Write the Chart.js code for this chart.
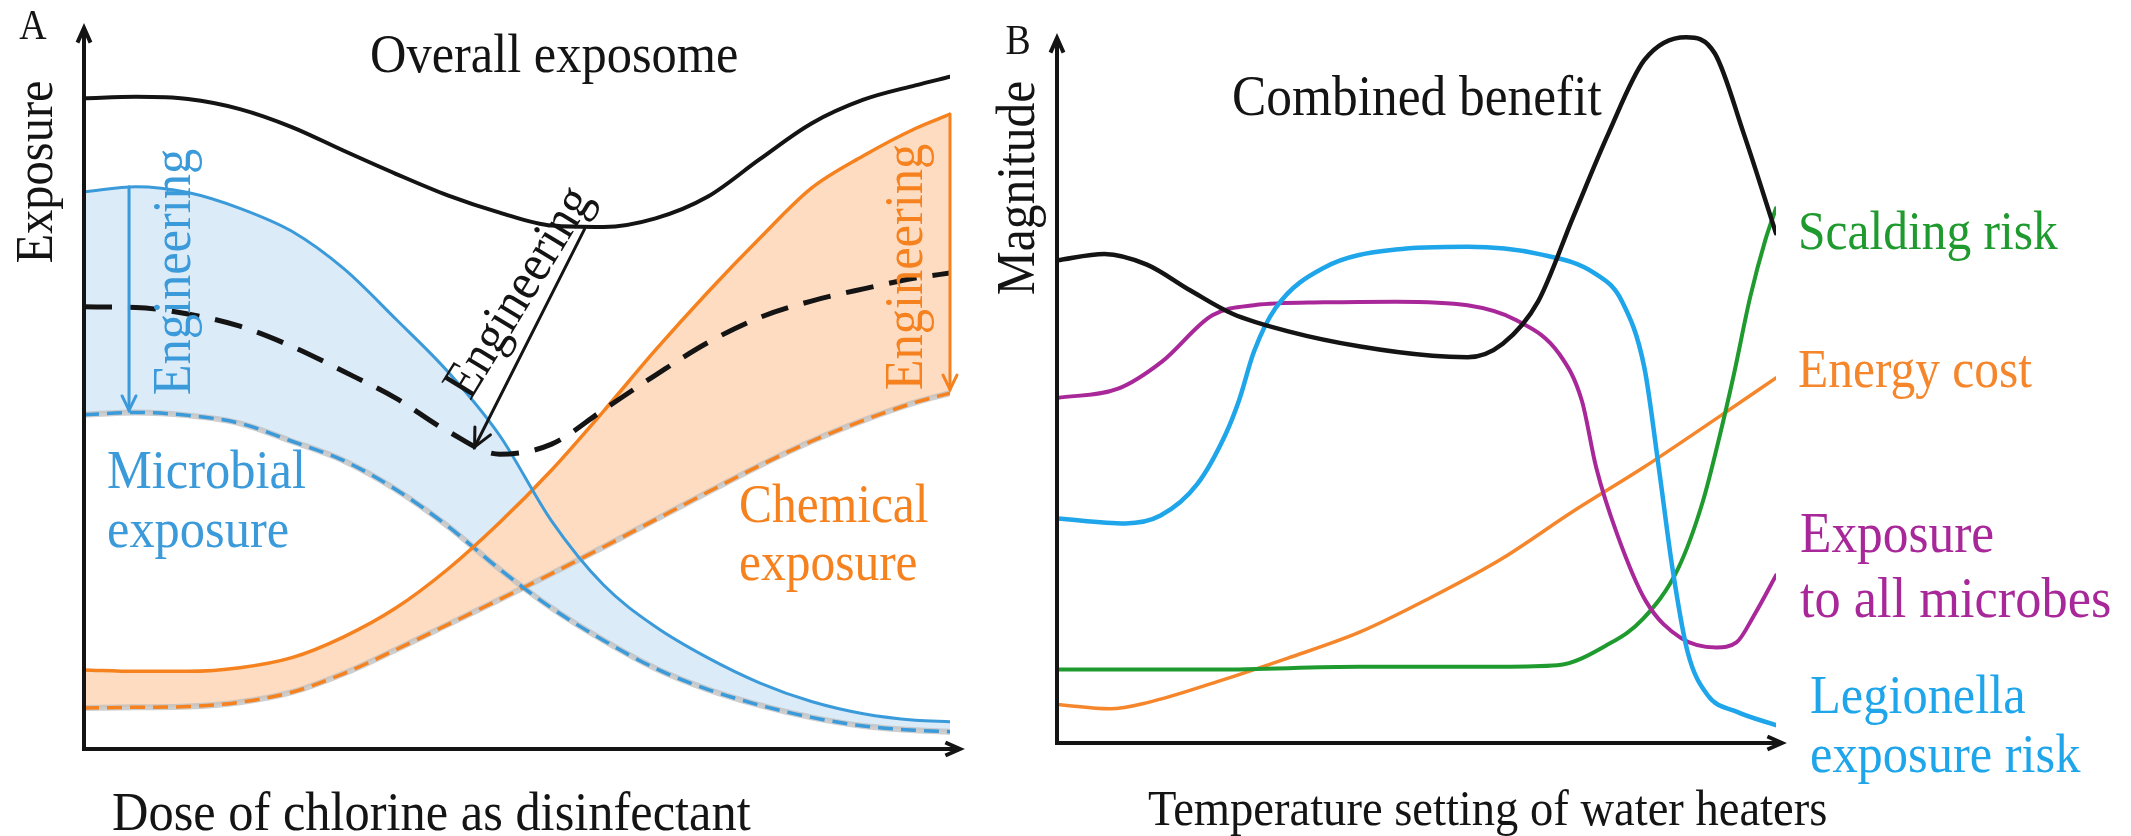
<!DOCTYPE html>
<html><head><meta charset="utf-8">
<script src="https://cdn.jsdelivr.net/npm/chart.js@4/dist/chart.umd.min.js"></script>
<style>
html,body{margin:0;padding:0;background:#fff;}
#wrap{position:relative;width:2131px;height:836px;overflow:hidden;background:#fff}
canvas{position:absolute;top:0}
</style>
</head><body>
<div id="wrap">
<canvas id="cA" width="1000" height="836" style="left:0px"></canvas>
<canvas id="cB" width="1151" height="836" style="left:980px"></canvas>
</div>
<script>
// ---------- Panel A: dose of chlorine (0-100, arbitrary units) ----------
const doseX = [0, 6, 12, 18, 24, 30, 36, 42, 48, 54, 60, 66, 72, 78, 84, 90, 96, 100];
const overallExposome   = [90.5, 90.7, 90.4, 89.0, 86.5, 83.2, 80.0, 77.0, 74.6, 72.8, 72.6, 73.8, 76.8, 82.0, 87.0, 90.3, 92.3, 93.5];
const overallEngineered = [61.5, 61.4, 60.5, 58.8, 56.0, 52.5, 48.8, 44.2, 41.0, 42.4, 47.2, 52.0, 56.5, 60.0, 62.3, 64.0, 65.5, 66.2];
const microbialExposure   = [77.5, 78.2, 77.4, 75.2, 72.0, 66.8, 59.8, 52.5, 43.6, 31.7, 22.8, 17.0, 12.7, 9.2, 6.6, 4.9, 4.0, 3.8];
const microbialEngineered = [46.5, 46.8, 46.4, 45.3, 42.8, 40.1, 36.1, 31.0, 25.0, 19.6, 15.1, 11.2, 8.3, 6.1, 4.4, 3.2, 2.6, 2.4];
const chemicalExposure   = [11.0, 10.8, 10.8, 11.3, 12.7, 15.6, 19.6, 25.0, 31.5, 38.8, 47.0, 55.5, 63.5, 71.0, 78.0, 82.5, 86.3, 88.3];
const chemicalEngineered = [5.7, 5.8, 5.9, 6.5, 7.9, 10.5, 13.8, 17.3, 20.8, 24.4, 28.1, 31.9, 35.7, 39.4, 42.8, 45.7, 48.2, 49.5];

// ---------- Panel B: temperature setting (0-100, arbitrary units) ----------
const benefitX = [0, 6.6, 12.5, 18.5, 24.4, 32.3, 42.2, 52.2, 57.1, 62.0, 66.9, 71.8, 76.7, 81.7, 87.5, 91.5, 95.5, 100];
const benefitY = [67.7, 68.6, 67.1, 63.5, 60.2, 57.7, 55.6, 54.3, 54.1, 56.0, 61.9, 73.8, 85.5, 95.8, 99.0, 96.7, 85.5, 71.5];
const legionellaX = [0, 9.5, 14.4, 19.5, 23.4, 25.3, 27.4, 30.4, 37.2, 47.1, 57.1, 66.9, 74.9, 78.6, 81.7, 83.7, 85.6, 87.7, 90.5, 94.5, 100];
const legionellaY = [31.5, 30.8, 31.9, 36.3, 43.2, 48.0, 54.9, 61.0, 66.7, 69.2, 69.6, 68.6, 65.8, 61.9, 52.6, 38.6, 24.5, 12.8, 6.7, 4.4, 2.5];
const microbesX = [0, 8.5, 14.6, 21.6, 27.4, 37.2, 47.1, 57.1, 63.9, 69.9, 73.0, 75.0, 77.9, 81.9, 86.8, 91.7, 94.5, 97.0, 100];
const microbesY = [48.4, 49.7, 53.5, 60.0, 61.4, 61.8, 61.9, 61.4, 59.3, 54.5, 48.0, 38.6, 29.3, 19.9, 14.7, 13.4, 14.1, 18.0, 23.5];
const scaldX = [0, 22.3, 42.0, 61.8, 69.6, 76.6, 81.5, 86.4, 89.8, 92.2, 94.1, 96.4, 98.5, 100];
const scaldY = [10.3, 10.3, 10.7, 10.7, 10.9, 13.8, 17.4, 24.5, 33.8, 43.2, 51.5, 62.5, 70.5, 75.0];
const energyX = [0, 7.4, 12.7, 22.3, 32.1, 42.0, 51.8, 61.8, 71.8, 81.5, 91.7, 100];
const energyY = [5.4, 4.8, 5.7, 8.6, 11.9, 15.5, 20.3, 25.8, 32.5, 38.6, 45.5, 51.2];

// ---------- colours ----------
const C = {
  black: '#141414',
  blueA: '#3b9ad9', blueAfill: '#dcebf8', orangeA: '#f5821f', orangeAfill: '#fddcc2',
  halo: 'rgba(190,190,190,0.75)',
  legion: '#1ea5ea', microbes: '#a8289a', scald: '#1f9a2e', energy: '#f5862b'
};
const FONT = '"Liberation Serif","Times New Roman",serif';
const BASE = 40;

function pts(xs, ys) { return xs.map((x, i) => ({ x: x, y: ys[i] })); }

function drawText(ctx, t, off) {
  ctx.save();
  ctx.font = BASE + 'px ' + FONT;
  ctx.fillStyle = t.color || C.black;
  ctx.textAlign = t.align || 'left';
  ctx.textBaseline = t.baseline || 'alphabetic';
  ctx.translate(t.x - off, t.y);
  if (t.rot) ctx.rotate(t.rot * Math.PI / 180);
  const s = t.size / BASE;
  ctx.scale(s * 0.97, s * 1.06);
  ctx.fillText(t.text, 0, 0);
  ctx.restore();
}
function chevron(ctx, x1, y1, x2, y2, len, ang) {
  const a = Math.atan2(y2 - y1, x2 - x1);
  ctx.beginPath();
  ctx.moveTo(x2 - len * Math.cos(a - ang), y2 - len * Math.sin(a - ang));
  ctx.lineTo(x2, y2);
  ctx.lineTo(x2 - len * Math.cos(a + ang), y2 - len * Math.sin(a + ang));
  ctx.stroke();
}
function arrowLine(ctx, x1, y1, x2, y2, color, w, head) {
  ctx.save();
  ctx.strokeStyle = color; ctx.lineWidth = w; ctx.lineCap = 'round'; ctx.lineJoin = 'miter';
  ctx.beginPath(); ctx.moveTo(x1, y1); ctx.lineTo(x2, y2); ctx.stroke();
  chevron(ctx, x1, y1, x2, y2, head, 0.45);
  ctx.restore();
}

function makeAnno(cfg) {
  return {
    id: 'anno' + cfg.name,
    afterDatasetsDraw(chart) {
      const ctx = chart.ctx, a = chart.chartArea, xs = chart.scales.x, ys = chart.scales.y;
      (cfg.arrows || []).forEach(r => {
        arrowLine(ctx, xs.getPixelForValue(r.x1), ys.getPixelForValue(r.y1),
                  xs.getPixelForValue(r.x2), ys.getPixelForValue(r.y2), r.color, r.w, r.head);
      });
      ctx.save();
      ctx.strokeStyle = C.black; ctx.lineWidth = 4; ctx.lineCap = 'butt';
      ctx.beginPath();
      ctx.moveTo(a.left, cfg.yTip); ctx.lineTo(a.left, a.bottom); ctx.lineTo(cfg.xTip - cfg.off, a.bottom);
      ctx.stroke();
      ctx.lineJoin = 'miter';
      chevron(ctx, a.left, a.bottom, a.left, cfg.yTip, 16, 0.42);
      chevron(ctx, a.left, a.bottom, cfg.xTip - cfg.off, a.bottom, 16, 0.42);
      ctx.restore();
      (cfg.texts || []).forEach(t => drawText(ctx, t, cfg.off));
    }
  };
}

const common = (pad) => ({
  responsive: false, animation: false, devicePixelRatio: 1,
  layout: { padding: pad },
  plugins: { legend: { display: false }, tooltip: { enabled: false } },
  scales: {
    x: { type: 'linear', min: 0, max: 100, display: false },
    y: { type: 'linear', min: 0, max: 100, display: false }
  },
  elements: { point: { radius: 0, hoverRadius: 0 }, line: { cubicInterpolationMode: 'monotone', borderCapStyle: 'round', borderJoinStyle: 'round' } }
});

// ---------- Chart A ----------
const annoA = makeAnno({
  name: 'A', off: 0, yTip: 28, xTip: 960,
  arrows: [
    { x1: doseX[1] - 0.8, y1: microbialExposure[1], x2: doseX[1] - 0.8, y2: microbialEngineered[1] + 0.3, color: C.blueA, w: 3, head: 16 },
    { x1: 100, y1: chemicalExposure[17], x2: 100, y2: chemicalEngineered[17] + 0.5, color: C.orangeA, w: 3, head: 16 },
    { x1: 57.8, y1: 72.3, x2: 45.1, y2: 42.0, color: C.black, w: 3, head: 20 }
  ],
  texts: [
    { text: 'A', x: 33, y: 28, size: 39, align: 'center', baseline: 'middle' },
    { text: 'Exposure', x: 38, y: 172, size: 50, rot: -90, align: 'center', baseline: 'middle' },
    { text: 'Overall exposome', x: 370, y: 72, size: 52 },
    { text: 'Engineering', x: 176, y: 272, size: 52, rot: -90, align: 'center', baseline: 'middle', color: C.blueA },
    { text: 'Engineering', x: 520, y: 293, size: 50, rot: -58.7, align: 'center', baseline: 'middle' },
    { text: 'Engineering', x: 908, y: 267, size: 52, rot: -90, align: 'center', baseline: 'middle', color: C.orangeA },
    { text: 'Microbial', x: 107, y: 488, size: 52, color: C.blueA },
    { text: 'exposure', x: 107, y: 547, size: 52, color: C.blueA },
    { text: 'Chemical', x: 739, y: 522, size: 51, color: C.orangeA },
    { text: 'exposure', x: 739, y: 580, size: 51, color: C.orangeA },
    { text: 'Dose of chlorine as disinfectant', x: 112, y: 830, size: 52 }
  ]
});

new Chart(document.getElementById('cA'), {
  type: 'line',
  data: {
    datasets: [
      { data: pts(doseX, microbialExposure), fill: { target: 1 }, backgroundColor: C.blueAfill, borderWidth: 0, order: 10 },
      { data: pts(doseX, microbialEngineered), fill: false, borderWidth: 0, order: 10 },
      { data: pts(doseX, chemicalExposure), fill: { target: 3 }, backgroundColor: C.orangeAfill, borderWidth: 0, order: 9 },
      { data: pts(doseX, chemicalEngineered), fill: false, borderWidth: 0, order: 9 },
      { data: pts(doseX, microbialEngineered), borderColor: C.halo, borderWidth: 6, order: 8 },
      { data: pts(doseX, chemicalEngineered), borderColor: C.halo, borderWidth: 6, order: 8 },
      { data: pts(doseX, microbialEngineered), borderColor: C.blueA, borderWidth: 3.5, borderDash: [15, 8], borderCapStyle: 'butt', order: 7 },
      { data: pts(doseX, chemicalEngineered), borderColor: C.orangeA, borderWidth: 3.5, borderDash: [15, 8], borderCapStyle: 'butt', order: 7 },
      { data: pts(doseX, microbialExposure), borderColor: C.blueA, borderWidth: 3, order: 6 },
      { data: pts(doseX, chemicalExposure), borderColor: C.orangeA, borderWidth: 3.5, order: 6 },
      { data: pts(doseX, overallEngineered), borderColor: C.black, borderWidth: 5, borderDash: [28, 16], borderCapStyle: 'butt', order: 5 },
      { data: pts(doseX, overallExposome), borderColor: C.black, borderWidth: 4, order: 4 }
    ]
  },
  options: common({ left: 84, right: 50, top: 30, bottom: 87 }),
  plugins: [annoA]
});

// ---------- Chart B ----------
const annoB = makeAnno({
  name: 'B', off: 980, yTip: 38, xTip: 1782,
  texts: [
    { text: 'B', x: 1018, y: 43, size: 39, align: 'center', baseline: 'middle' },
    { text: 'Magnitude', x: 1020, y: 188, size: 51, rot: -90, align: 'center', baseline: 'middle' },
    { text: 'Combined benefit', x: 1232, y: 115, size: 53 },
    { text: 'Scalding risk', x: 1798, y: 249, size: 51, color: C.scald },
    { text: 'Energy cost', x: 1798, y: 387, size: 51, color: C.energy },
    { text: 'Exposure', x: 1800, y: 552, size: 53, color: C.microbes },
    { text: 'to all microbes', x: 1800, y: 617, size: 54, color: C.microbes },
    { text: 'Legionella', x: 1810, y: 713, size: 52, color: C.legion },
    { text: 'exposure risk', x: 1810, y: 772, size: 52, color: C.legion },
    { text: 'Temperature setting of water heaters', x: 1148, y: 825, size: 48 }
  ]
});

new Chart(document.getElementById('cB'), {
  type: 'line',
  data: {
    datasets: [
      { data: pts(energyX, energyY), borderColor: C.energy, borderWidth: 3.5, order: 5 },
      { data: pts(scaldX, scaldY), borderColor: C.scald, borderWidth: 4, order: 4 },
      { data: pts(microbesX, microbesY), borderColor: C.microbes, borderWidth: 4, order: 3 },
      { data: pts(legionellaX, legionellaY), borderColor: C.legion, borderWidth: 4.5, order: 2 },
      { data: pts(benefitX, benefitY), borderColor: C.black, borderWidth: 4.5, order: 1 }
    ]
  },
  options: common({ left: 77, right: 355, top: 30, bottom: 93 }),
  plugins: [annoB]
});
</script>
</body></html>
